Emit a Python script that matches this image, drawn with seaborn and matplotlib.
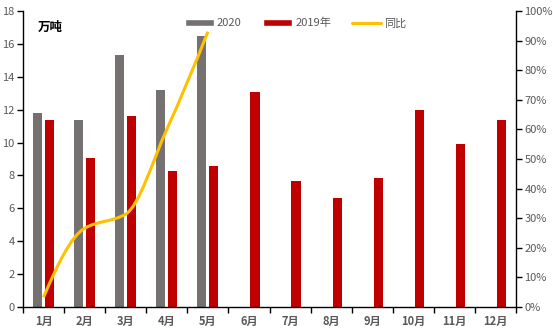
import numpy as np
import pandas as pd
import matplotlib
matplotlib.use("Agg")
import matplotlib.pyplot as plt
import seaborn as sns
from matplotlib.path import Path
from matplotlib.patches import PathPatch, Patch
from matplotlib.lines import Line2D

months = ["1月", "2月", "3月", "4月", "5月", "6月", "7月", "8月", "9月", "10月", "11月", "12月"]
v2020 = [11.8, 11.35, 15.3, 13.2, 16.5, np.nan, np.nan, np.nan, np.nan, np.nan, np.nan, np.nan]
v2019 = [11.4, 9.05, 11.6, 8.3, 8.55, 13.05, 7.65, 6.6, 7.85, 12.0, 9.9, 11.4]
yoy = [0.033, 0.266, 0.314, 0.60, 0.93]
series_names = ["2020", "2019年", "同比"]

sns.set_theme(style="white")
plt.rcParams['font.family'] = ['Noto Sans CJK SC', 'DejaVu Sans']

c_gray = "#767171"
c_red = "#C00000"
c_yel = "#FFC000"
tick_c = "#595959"

df = pd.DataFrame({
    "month": months * 2,
    "value": v2020 + v2019,
    "series": [series_names[0]] * 12 + [series_names[1]] * 12,
})

fig = plt.figure(figsize=(5.53, 3.34), dpi=100)
ax = fig.add_axes([23/553, 1-307/334, (516-23)/553, (307-11)/334])
sns.barplot(data=df, x="month", y="value", hue="series", order=months,
            hue_order=series_names[:2], palette=[c_gray, c_red],
            width=0.585, gap=0.24, ax=ax, legend=False, saturation=1,
            linewidth=0, edgecolor="none")
ax.set_xlim(-0.5, 11.5)
ax.set_ylim(0, 18)
ax.set_yticks(np.arange(0, 19, 2))
ax.set_xlabel("")
ax.set_ylabel("")
for s in ["top", "right"]:
    ax.spines[s].set_visible(False)
for s in ["left", "bottom"]:
    ax.spines[s].set_color("black")
    ax.spines[s].set_linewidth(1)
ax.set_xticks(range(12))
ax.set_xticklabels(months)
ax.set_xticks(np.arange(-0.5, 12, 1), minor=True)
ax.tick_params(axis="x", which="major", length=0, labelsize=8, labelcolor=tick_c, pad=6)
ax.tick_params(axis="x", which="minor", length=4, width=1, color="black", direction="out", bottom=True)
ax.tick_params(axis="y", length=4, width=1, color="black", direction="out", labelsize=8, labelcolor=tick_c, left=True, pad=2)
for t in ax.get_xticklabels():
    t.set_fontweight("bold")

ax2 = ax.twinx()
ax2.set_ylim(0, 1)
ax2.set_yticks(np.arange(0, 1.01, 0.1))
ax2.set_yticklabels([f"{int(round(v*100))}%" for v in np.arange(0, 1.01, 0.1)])
for s in ["top", "left", "bottom"]:
    ax2.spines[s].set_visible(False)
ax2.spines["right"].set_color("black")
ax2.spines["right"].set_linewidth(1)
ax2.tick_params(axis="y", length=4, width=1, color="black", direction="out", labelsize=8, labelcolor=tick_c, right=True, pad=2)
ax2.grid(False)

# smoothed line (monotone cubic Hermite drawn as Bezier) through the data points
xs = np.arange(len(yoy), dtype=float)
ys = np.array(yoy)
n = len(ys)
d = np.diff(ys)
m = np.zeros(n)
for i in range(1, n - 1):
    if d[i - 1] * d[i] > 0:
        m[i] = 2 * d[i - 1] * d[i] / (d[i - 1] + d[i])
m[0] = (3 * d[0] - d[1]) / 2
m[-1] = (3 * d[-1] - d[-2]) / 2
verts = [(xs[0], ys[0])]
codes = [Path.MOVETO]
for i in range(n - 1):
    verts += [(xs[i] + 1/3, ys[i] + m[i] / 3),
              (xs[i + 1] - 1/3, ys[i + 1] - m[i + 1] / 3),
              (xs[i + 1], ys[i + 1])]
    codes += [Path.CURVE4] * 3
ax2.add_patch(PathPatch(Path(verts, codes), facecolor="none", edgecolor=c_yel, lw=2.2, capstyle="butt"))
sns.lineplot(x=xs, y=ys, ax=ax2, color=c_yel, lw=0, legend=False)

ax.text(0.03, 0.965, "万吨", transform=ax.transAxes, fontsize=9, fontweight="bold",
        ha="left", va="top", color="black")

handles = [Patch(facecolor=c_gray), Patch(facecolor=c_red),
           Line2D([0], [0], color=c_yel, lw=2.2)]
leg = ax.legend(handles, series_names, loc="upper center", bbox_to_anchor=(0.553, 1.01), ncol=3,
                frameon=False, fontsize=8, handlelength=2.6, handleheight=0.6,
                columnspacing=1.9, handletextpad=0.3)
for t in leg.get_texts():
    t.set_color(tick_c)

fig.savefig("out.png", dpi=100)
